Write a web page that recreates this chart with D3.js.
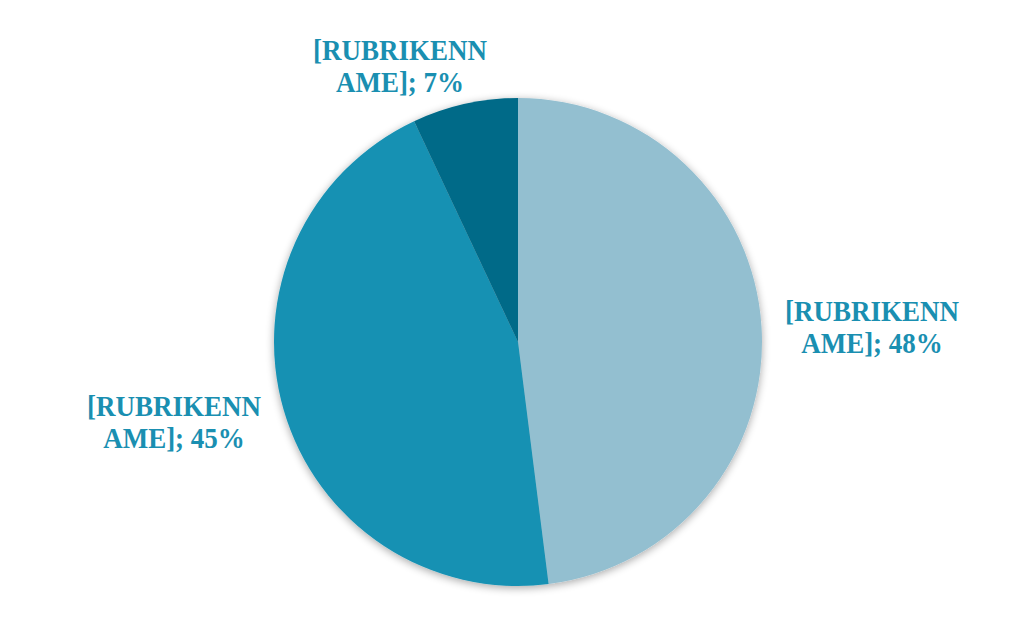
<!DOCTYPE html>
<html>
<head>
<meta charset="utf-8">
<script src="https://cdn.jsdelivr.net/npm/d3@7"></script>
<style>
	body { margin: 0; background: #fff; }
	text { font-family: "Liberation Serif", "DejaVu Serif", serif; font-weight: bold; }
</style>
</head>
<body>
<script>
var categories = ["[RUBRIKENNAME]", "[RUBRIKENNAME]", "[RUBRIKENNAME]"]
var values = [48, 45, 7]
var colors = ["#93bfd0", "#1591b3", "#046a88"]
// label lines, split as in the original
var label_lines = [["[RUBRIKENN", "AME]; 48%"], ["[RUBRIKENN", "AME]; 45%"], ["[RUBRIKENN", "AME]; 7%"]]

var width = 1024, height = 635
var cx = 518, cy = 342, radius = 244

var svg = d3.select("body").append("svg")
	.attr("width", width)
	.attr("height", height)

var defs = svg.append("defs")
var shadow = defs.append("filter").attr("id", "shadow")
	.attr("x", "-10%").attr("y", "-10%").attr("width", "120%").attr("height", "120%")
shadow.append("feGaussianBlur").attr("in", "SourceAlpha").attr("stdDeviation", 4)
shadow.append("feOffset").attr("dx", 0).attr("dy", 2).attr("result", "blur")
shadow.append("feComponentTransfer").append("feFuncA").attr("type", "linear").attr("slope", 0.35)
var merge = shadow.append("feMerge")
merge.append("feMergeNode")
merge.append("feMergeNode").attr("in", "SourceGraphic")

var pie = d3.pie().sort(null).value((d) => d)
var arc = d3.arc().innerRadius(0).outerRadius(radius)
var arcs = pie(values)

var g = svg.append("g")
	.attr("transform", "translate(" + cx + "," + cy + ")")
	.attr("filter", "url(#shadow)")

g.selectAll("path.slice")
	.data(arcs)
	.enter()
	.append("path")
	.attr("class", "slice")
	.attr("d", arc)
	.attr("fill", (d, i) => colors[i])

// label block placement, relative to the pie centre (first baseline)
var label_offset = [[354, -21], [-344, 74], [-118, -282]]
var line_gap = 32.5

var labels = svg.append("g")
	.attr("transform", "translate(" + cx + "," + cy + ")")
	.selectAll("text.label")
	.data(arcs)
	.enter()
	.append("text")
	.attr("class", "label")
	.attr("text-anchor", "middle")
	.attr("fill", "#1a8fb1")
	.attr("font-size", 30)
	.attr("transform", (d, i) => "translate(" + label_offset[i][0] + "," + label_offset[i][1] + ") scale(0.9,1)")

labels.selectAll("tspan")
	.data((d, i) => label_lines[i])
	.enter()
	.append("tspan")
	.attr("x", 0)
	.attr("y", (d, j) => j * line_gap)
	.text((d) => d)
</script>
</body>
</html>
